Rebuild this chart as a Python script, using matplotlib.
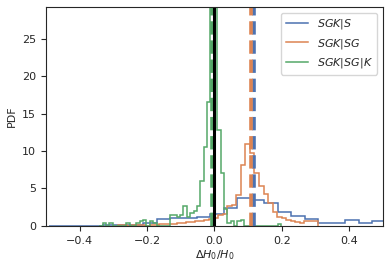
import numpy as np
import matplotlib
matplotlib.use('Agg')
import matplotlib.pyplot as plt

# histogram data (bin edges + densities)
blue_edges = np.linspace(-0.492, 0.508, 26)
blue_vals = [0.05, 0.05, 0.05, 0.05, 0.1, 0.1, 0.1, 0.45, 0.9, 1.0, 1.0, 1.2, 1.6,
             2.4, 3.7, 3.5, 3.1, 1.9, 1.3, 0.9, 0.35, 0.35, 0.8, 0.35, 0.6]

orange_edges = np.linspace(-0.2865, 0.3075, 45)
orange_vals = [0.1, 0.1, 0.0, 0.1, 0.1, 0.1, 0.0, 0.1, 0.1, 0.2, 0.2, 0.25, 0.3, 0.35,
               0.35, 0.5, 0.5, 0.6, 0.7, 0.8, 0.9, 1.1, 1.4, 1.6, 2.6, 2.8, 4.1, 8.1,
               11.0, 9.8, 7.0, 5.3, 4.2, 3.0, 1.9, 1.2, 1.1, 0.8, 0.6, 0.5, 0.4, 0.6,
               0.6, 0.6]

green_edges = np.linspace(-0.342, 0.198, 55)
green_vals = [0.0, 0.35, 0.0, 0.35, 0.0, 0.0, 0.0, 0.0, 0.35, 0.0, 0.0, 0.35, 0.6, 0.8,
              0.0, 0.6, 0.35, 0.0, 0.0, 0.0, 0.0, 1.5, 1.5, 1.2, 1.5, 2.7, 1.2, 1.7,
              2.0, 2.7, 6.0, 10.5, 16.6, 45.0, 35.0, 12.8, 7.0, 2.2, 0.4, 0.6, 0.0,
              0.6, 0.8, 0.0, 0.0, 0.0, 0.0, 0.0, 0.0, 0.0, 0.0, 0.0, 0.0, 0.3]

labels = ['$SGK|S$', '$SGK|SG$', '$SGK|SG|K$']
colors = ['#4c72b0', '#dd8452', '#55a868']
medians = [0.116, 0.107, -0.006]

plt.rcParams['font.size'] = 8
plt.rcParams['text.color'] = '#262626'
plt.rcParams['axes.labelcolor'] = '#262626'
plt.rcParams['xtick.color'] = '#262626'
plt.rcParams['ytick.color'] = '#262626'
plt.rcParams['axes.edgecolor'] = '#262626'

fig = plt.figure(figsize=(3.91, 2.70), dpi=100)
ax = fig.add_axes([0.1176, 0.163, 0.8619, 0.811])

for vals, edges, c, lab in zip([blue_vals, orange_vals, green_vals],
                               [blue_edges, orange_edges, green_edges],
                               colors, labels):
    ax.stairs(vals, edges, color=c, lw=1.1, label=lab)

# median lines
for m, c in zip(medians, colors):
    ax.axvline(m, color=c, ls='--', lw=2.6)
ax.axvline(0.0, color='black', lw=2.2)

ax.set_xlim(-0.5, 0.5)
ax.set_ylim(0, 29.2)
ax.set_xticks([-0.4, -0.2, 0.0, 0.2, 0.4])
ax.set_yticks([0, 5, 10, 15, 20, 25])
ax.set_xlabel(r'$\Delta H_0/H_0$', labelpad=2)
ax.set_ylabel('PDF')
ax.legend(loc='upper right')

fig.savefig('out.png', dpi=100)
